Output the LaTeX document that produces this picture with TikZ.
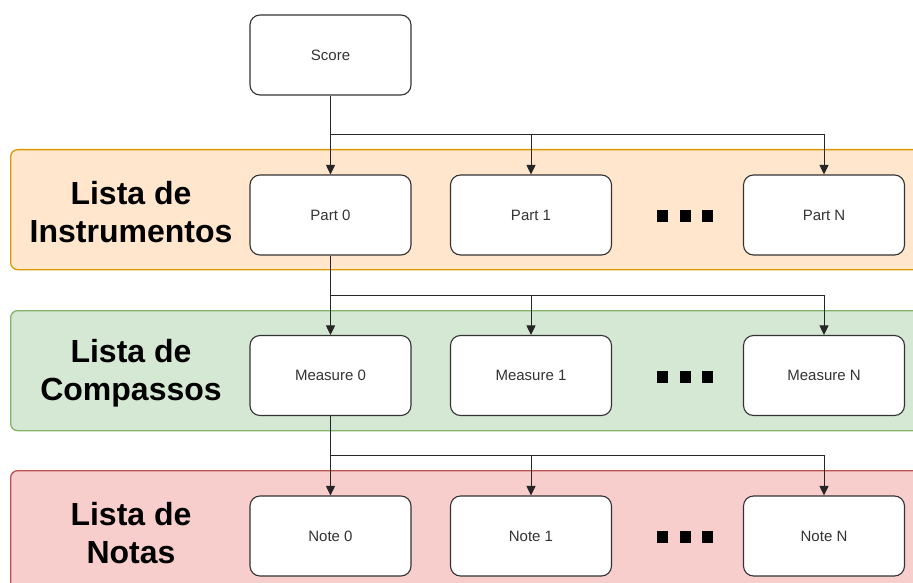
\documentclass[tikz,border=0pt]{standalone}
\usepackage{fontspec}
\setmainfont{Liberation Sans}
\usetikzlibrary{arrows.meta,calc}
\definecolor{oFill}{HTML}{FFE6CC}\definecolor{oLine}{HTML}{D79B00}
\definecolor{gFill}{HTML}{D5E8D4}\definecolor{gLine}{HTML}{82B366}
\definecolor{rFill}{HTML}{F8CECC}\definecolor{rLine}{HTML}{B85450}
\definecolor{boxLine}{HTML}{333333}\definecolor{txt}{HTML}{333333}
\tikzset{
  band/.style={rectangle,rounded corners=7pt,line width=1.3pt,minimum width=930pt,minimum height=120pt,anchor=north west,inner sep=0pt},
  box/.style={rectangle,rounded corners=10pt,draw=boxLine,fill=white,line width=1.1pt,minimum width=161pt,minimum height=80pt,inner sep=0pt,text=txt,font=\fontsize{15}{18}\selectfont},
  lbl/.style={align=center,font=\fontsize{32}{38}\selectfont\bfseries,text=black,inner sep=0pt},
  sq/.style={rectangle,fill=black,minimum width=11pt,minimum height=12pt,inner sep=0pt},
  arr/.style={draw=black!85,line width=1pt,-{Triangle[length=9.5pt,width=9pt]}},
  ln/.style={draw=black!85,line width=1pt}
}
\begin{document}
\begin{tikzpicture}[x=1pt,y=-1pt]
\useasboundingbox (0,0) rectangle (913,583);
\clip (0,0) rectangle (913,583);
\node[band,draw=oLine,fill=oFill] (b1) at (10,149) {};
\node[band,draw=gLine,fill=gFill] (b2) at (10,310) {};
\node[band,draw=rLine,fill=rFill] (b3) at (10,470) {};
\node[lbl] (l1) at (131,212) {Lista de\\Instrumentos};
\node[lbl] (l2) at (131,373) {Lista de\\Compassos};
\node[lbl] (l3) at (131,533) {Lista de\\Notas};
\node[box] (score) at (330.5,55) {Score};
\node[box] (p0) at (330.5,215) {Part 0};
\node[box] (p1) at (531,215) {Part 1};
\node[box] (pn) at (824,215) {Part N};
\node[box] (m0) at (330.5,375.5) {Measure 0};
\node[box] (m1) at (531,375.5) {Measure 1};
\node[box] (mn) at (824,375.5) {Measure N};
\node[box] (n0) at (330.5,536) {Note 0};
\node[box] (n1) at (531,536) {Note 1};
\node[box] (nn) at (824,536) {Note N};
\foreach \r/\y in {1/216,2/376.5,3/537}{
  \node[sq] (d\r a) at (662.5,\y) {};
  \node[sq] (d\r b) at (685,\y) {};
  \node[sq] (d\r c) at (707.5,\y) {};
}
\coordinate (j1) at ($(score.south)!0.5!(p0.north)$);
\coordinate (j2) at ($(p0.south)!0.5!(m0.north)$);
\coordinate (j3) at ($(m0.south)!0.5!(n0.north)$);
\draw[arr] (score) -- (p0);
\draw[arr] (j1) -| (p1.north);
\draw[arr] (j1) -| (pn.north);
\draw[arr] (p0) -- (m0);
\draw[arr] (j2) -| (m1.north);
\draw[arr] (j2) -| (mn.north);
\draw[arr] (m0) -- (n0);
\draw[arr] (j3) -| (n1.north);
\draw[arr] (j3) -| (nn.north);
\end{tikzpicture}
\end{document}
